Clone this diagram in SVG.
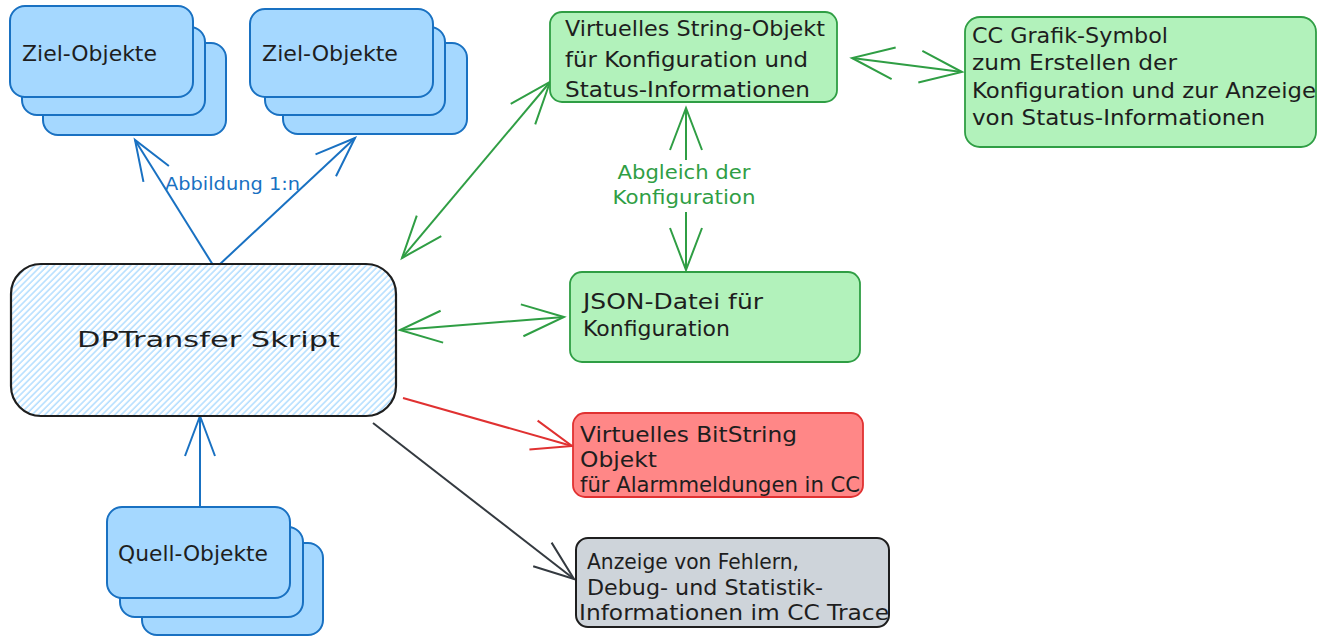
<svg xmlns="http://www.w3.org/2000/svg" width="1325" height="636" viewBox="0 0 1325 636">
<style>
text{font-family:"DejaVu Sans","Liberation Sans",sans-serif;fill:#1e1e1e;font-size:21px}
.blue{fill:#a5d8ff;stroke:#1971c2;stroke-width:2}
.green{fill:#b2f2bb;stroke:#2f9e44;stroke-width:1.8}
.red{fill:#ff8787;stroke:#e03131;stroke-width:1.8}
.grey{fill:#ced4da;stroke:#1e1e1e;stroke-width:2}
.main{fill:url(#hatch);stroke:#1e1e1e;stroke-width:2.2}
.cb{fill:none;stroke:#1971c2;stroke-width:2}
.cg{fill:none;stroke:#2f9e44;stroke-width:2}
.cr{fill:none;stroke:#e03131;stroke-width:2}
.ck{fill:none;stroke:#343a40;stroke-width:2}
.lblb{fill:#1971c2;font-size:18px}
.lblg{fill:#2f9e44;font-size:20px}
</style>
<defs>
<pattern id="hatch" width="4.5" height="4.5" patternUnits="userSpaceOnUse" patternTransform="rotate(45)">
<rect width="4.5" height="4.5" fill="#ffffff"/>
<line x1="1" y1="0" x2="1" y2="4.5" stroke="#a5d8ff" stroke-width="1.3"/>
</pattern>
<marker id="mb" markerUnits="userSpaceOnUse" viewBox="-46 -20 50 40" refX="0" refY="0" markerWidth="50" markerHeight="40" orient="auto-start-reverse"><path d="M-40,-15 L0,0 L-40,15" fill="none" stroke="#1971c2" stroke-width="2"/></marker>
<marker id="mg" markerUnits="userSpaceOnUse" viewBox="-46 -20 50 40" refX="0" refY="0" markerWidth="50" markerHeight="40" orient="auto-start-reverse"><path d="M-42,-16 L0,0 L-42,16" fill="none" stroke="#2f9e44" stroke-width="2"/></marker>
<marker id="mr" markerUnits="userSpaceOnUse" viewBox="-46 -20 50 40" refX="0" refY="0" markerWidth="50" markerHeight="40" orient="auto-start-reverse"><path d="M-40,-15 L0,0 L-40,15" fill="none" stroke="#e03131" stroke-width="2"/></marker>
<marker id="mk" markerUnits="userSpaceOnUse" viewBox="-46 -20 50 40" refX="0" refY="0" markerWidth="50" markerHeight="40" orient="auto-start-reverse"><path d="M-40,-15 L0,0 L-40,15" fill="none" stroke="#343a40" stroke-width="2"/></marker>
</defs>
<rect width="1325" height="636" fill="#ffffff"/>

<g id="connectors">
<path class="cb" d="M213,265 L135,140" marker-end="url(#mb)"/>
<path class="cb" d="M219,265 L355,138" marker-end="url(#mb)"/>
<path class="cb" d="M200,507 L200,416" marker-end="url(#mb)"/>
<path class="cg" d="M402,258 L550,82" marker-start="url(#mg)" marker-end="url(#mg)"/>
<path class="cg" d="M852,58 L962,72" marker-start="url(#mg)" marker-end="url(#mg)"/>
<path class="cg" d="M686,160 L686,108" marker-end="url(#mg)"/>
<path class="cg" d="M686,212 L686,270" marker-end="url(#mg)"/>
<path class="cg" d="M400,330 L564,317" marker-start="url(#mg)" marker-end="url(#mg)"/>
<path class="cr" d="M403,398 L572,446" marker-end="url(#mr)"/>
<path class="ck" d="M373,423 L574,579" marker-end="url(#mk)"/>
<text class="lblb" x="165" y="190" textLength="135" lengthAdjust="spacingAndGlyphs">Abbildung 1:n</text>
<text class="lblg" x="684" y="179" text-anchor="middle" textLength="133" lengthAdjust="spacingAndGlyphs">Abgleich der</text>
<text class="lblg" x="684" y="204" text-anchor="middle" textLength="143" lengthAdjust="spacingAndGlyphs">Konfiguration</text>
</g>

<g id="ziel1">
<rect class="blue" x="43" y="43" width="183" height="92" rx="15"/>
<rect class="blue" x="22" y="27" width="183" height="88" rx="15"/>
<rect class="blue" x="10" y="6" width="183" height="91" rx="15"/>
<text x="22" y="61" textLength="135" lengthAdjust="spacingAndGlyphs">Ziel-Objekte</text>
</g>

<g id="ziel2">
<rect class="blue" x="283" y="43" width="184" height="91" rx="15"/>
<rect class="blue" x="265" y="27" width="180" height="88" rx="15"/>
<rect class="blue" x="250" y="9" width="183" height="88" rx="15"/>
<text x="262" y="61" textLength="136" lengthAdjust="spacingAndGlyphs">Ziel-Objekte</text>
</g>

<g id="dptransfer">
<rect class="main" x="11" y="264" width="385" height="152" rx="30"/>
<text x="77" y="347" font-size="31" textLength="263" lengthAdjust="spacingAndGlyphs">DPTransfer Skript</text>
</g>

<g id="quell">
<rect class="blue" x="142" y="543" width="181" height="92" rx="15"/>
<rect class="blue" x="120" y="527" width="183" height="90" rx="15"/>
<rect class="blue" x="107" y="507" width="183" height="91" rx="15"/>
<text x="118" y="561" textLength="150" lengthAdjust="spacingAndGlyphs">Quell-Objekte</text>
</g>

<g id="string-objekt">
<rect class="green" x="550" y="12" width="287" height="90" rx="12"/>
<text x="565" y="36" textLength="260" lengthAdjust="spacingAndGlyphs">Virtuelles String-Objekt</text>
<text x="565" y="67" textLength="243" lengthAdjust="spacingAndGlyphs">für Konfiguration und</text>
<text x="565" y="97" textLength="245" lengthAdjust="spacingAndGlyphs">Status-Informationen</text>
</g>

<g id="cc-grafik">
<rect class="green" x="965" y="17" width="351" height="130" rx="15"/>
<text x="972" y="43" textLength="196" lengthAdjust="spacingAndGlyphs">CC Grafik-Symbol</text>
<text x="972" y="70" textLength="205" lengthAdjust="spacingAndGlyphs">zum Erstellen der</text>
<text x="972" y="98" textLength="344" lengthAdjust="spacingAndGlyphs">Konfiguration und zur Anzeige</text>
<text x="972" y="125" textLength="293" lengthAdjust="spacingAndGlyphs">von Status-Informationen</text>
</g>

<g id="json">
<rect class="green" x="570" y="272" width="290" height="90" rx="12"/>
<text x="583" y="309" textLength="180" lengthAdjust="spacingAndGlyphs">JSON-Datei für</text>
<text x="583" y="336" textLength="147" lengthAdjust="spacingAndGlyphs">Konfiguration</text>
</g>

<g id="bitstring">
<rect class="red" x="573" y="413" width="290" height="84" rx="12"/>
<text x="580" y="442" textLength="217" lengthAdjust="spacingAndGlyphs">Virtuelles BitString</text>
<text x="580" y="467" textLength="77" lengthAdjust="spacingAndGlyphs">Objekt</text>
<text x="580" y="492" textLength="280" lengthAdjust="spacingAndGlyphs">für Alarmmeldungen in CC</text>
</g>

<g id="trace">
<rect class="grey" x="576" y="538" width="313" height="89" rx="12"/>
<text x="587" y="569" textLength="212" lengthAdjust="spacingAndGlyphs">Anzeige von Fehlern,</text>
<text x="587" y="595" textLength="236" lengthAdjust="spacingAndGlyphs">Debug- und Statistik-</text>
<text x="579" y="620" textLength="310" lengthAdjust="spacingAndGlyphs">Informationen im CC Trace</text>
</g>
</svg>
